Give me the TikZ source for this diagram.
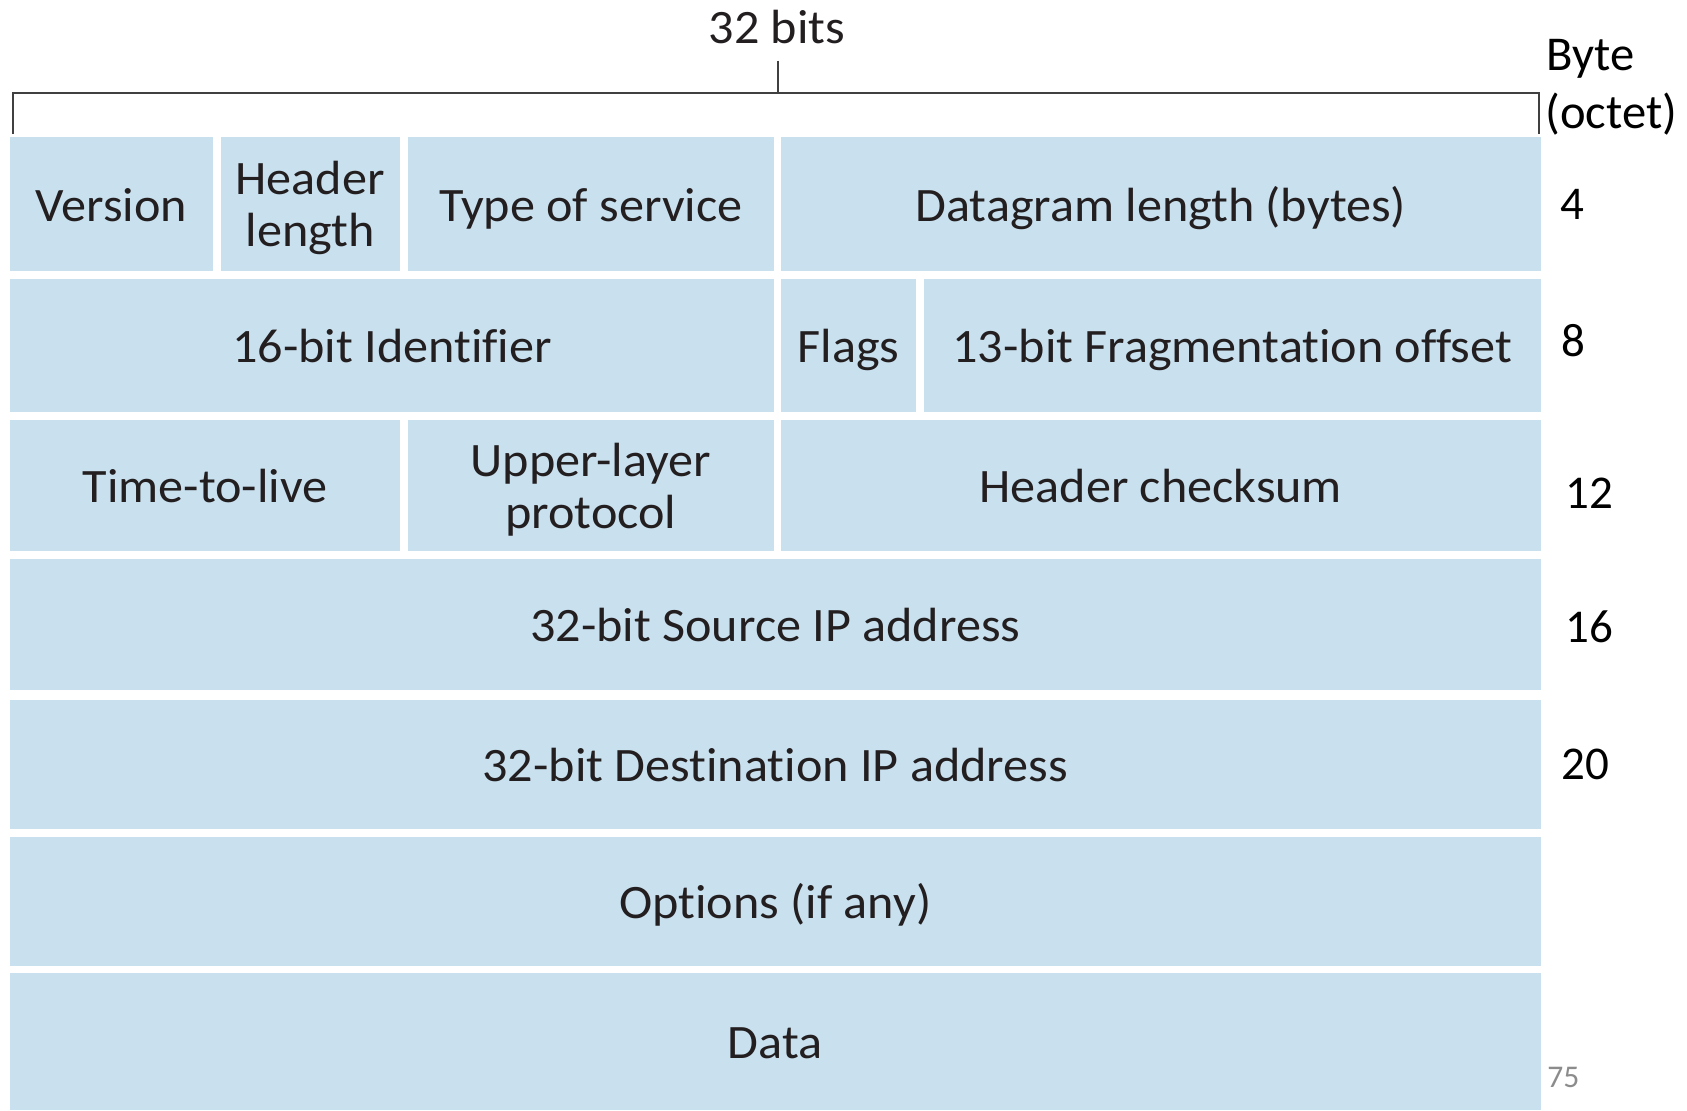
\documentclass[tikz,border=0pt]{standalone}
\usepackage{fontspec}
\newfontfamily\figfont[FakeStretch=1.045, Ligatures=CommonOff]{Carlito}
\newfontfamily\slidefont{Carlito}

\definecolor{fieldblue}{RGB}{201,224,238}
\definecolor{inkdark}{RGB}{35,31,32}
\definecolor{rulegrey}{RGB}{64,64,64}
\definecolor{pagegrey}{RGB}{140,140,140}

\tikzset{
  lbl/.style={font=\figfont\fontsize{24}{26}\selectfont, text=inkdark, align=center, inner sep=0pt},
  side/.style={font=\slidefont\fontsize{23.5}{28}\selectfont, anchor=base west, inner sep=0pt},
  bracket/.style={draw=rulegrey, line width=1pt}
}

% \field[node opts]{x1}{y1}{x2}{y2}{name}{text}
\newcommand{\field}[7][text height=21.5pt, text depth=4.5pt]{%
  \fill[fieldblue] (#2,#3) rectangle (#4,#5);
  \node[lbl, #1] (#6) at ({(#2+#4)/2},{(#3+#5)/2}) {#7};}

\begin{document}
\begin{tikzpicture}[x=0.5pt,y=-0.5pt]

\useasboundingbox (0,0) rectangle (1687,1110);

\field{10}{137}{213}{271}{ver}{Version}
\field[yshift=-2.2pt]{220.5}{137}{400}{271}{hlen}{Header\\length}
\field{407.5}{137}{774}{271}{tos}{Type of service}
\field{781}{137}{1540.5}{271}{dlen}{Datagram length (bytes)}

\field{10}{278.5}{774}{412}{ident}{16-bit Identifier}
\field{781}{278.5}{916}{412}{flags}{Flags}
\field{924}{278.5}{1540.5}{412}{frag}{13-bit Fragmentation offset}

\field{10}{419.5}{400}{551}{ttl}{Time-to-live}
\field[yshift=-2.2pt]{407.5}{419.5}{774}{551}{proto}{Upper-layer\\protocol}
\field{781}{419.5}{1540.5}{551}{csum}{Header checksum}

\field{10}{559}{1540.5}{690}{src}{32-bit Source IP address}
\field{10}{700}{1540.5}{829}{dst}{32-bit Destination IP address}
\field{10}{837}{1540.5}{966}{opts}{Options (if any)}
\field{10}{973}{1540.5}{1110}{data}{Data}

\node[lbl, anchor=base] (bits) at (777,43.3) {32 bits};
\coordinate (tick) at (777.7,60.7);
\coordinate (mid) at (777.7,92.7);
\coordinate (nw) at (13,92.7);
\coordinate (ne) at (1539,92.7);
\coordinate (sw) at (13,134);
\coordinate (se) at (1539,134);
\draw[bracket] (sw) -- (nw) -- (ne) -- (se);
\draw[bracket] (tick) -- (mid);

\node[side, font=\slidefont\fontsize{24.3}{28}\selectfont] (byte) at (1546,70) {Byte};
\node[side, font=\slidefont\fontsize{24.3}{28}\selectfont] (octet) at (1545,128) {(octet)};
\node[side] (off4) at (1560,219.5) {4};
\node[side] (off8) at (1561,356) {8};
\node[side] (off12) at (1565,508) {12};
\node[side] (off16) at (1565,642.6) {16};
\node[side] (off20) at (1561,779) {20};
\node[side, font=\slidefont\fontsize{15.8}{18}\selectfont, text=pagegrey] (page) at (1547,1087) {75};

\end{tikzpicture}
\end{document}
